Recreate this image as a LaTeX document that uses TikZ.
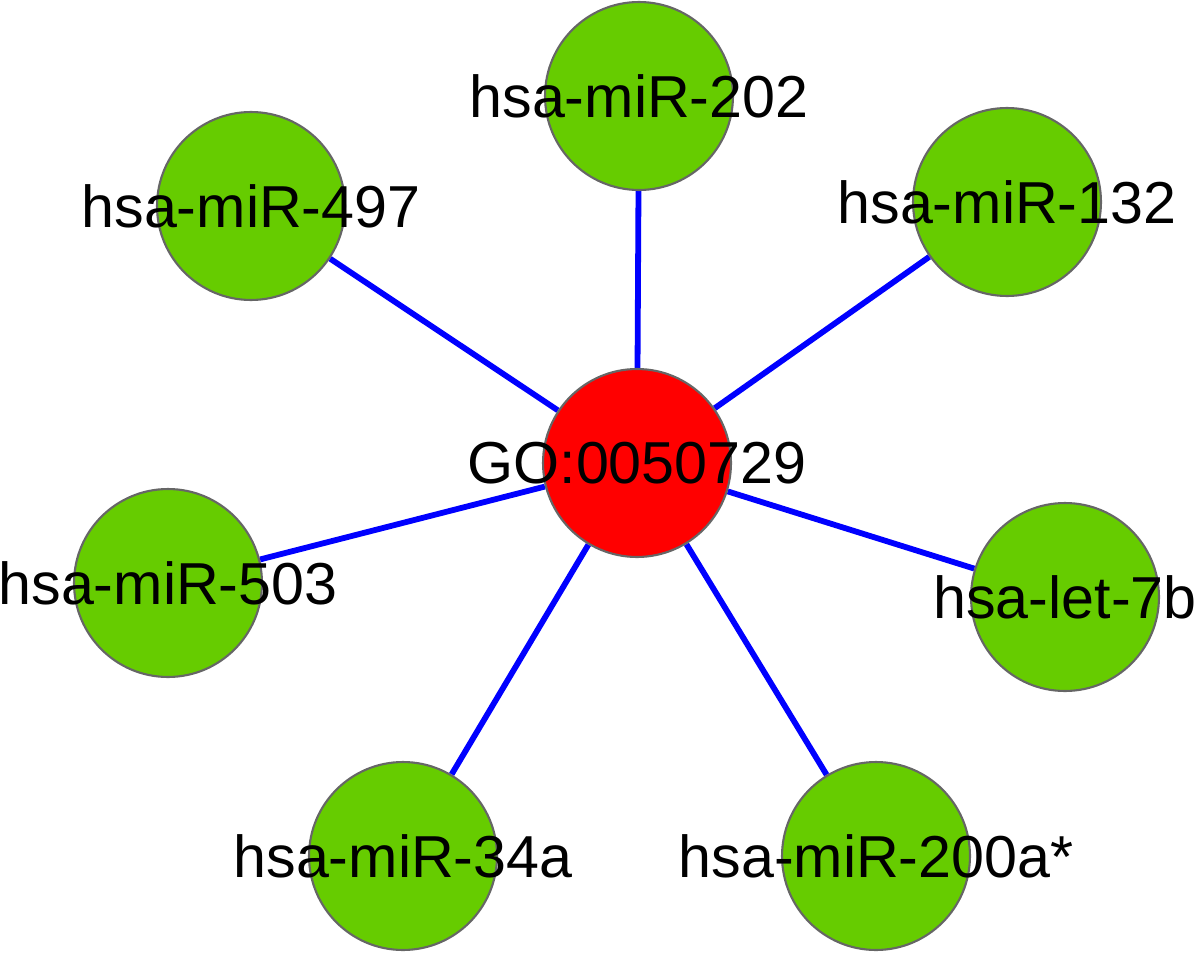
\documentclass[tikz,border=0pt]{standalone}
\usepackage{fontspec}
\setmainfont{Liberation Sans}
\usepackage{tikz}
\usetikzlibrary{backgrounds}
\definecolor{mirgreen}{RGB}{102,204,0}
\definecolor{rimgray}{RGB}{102,102,102}
\definecolor{linkblue}{RGB}{0,0,255}

\begin{document}
\begin{tikzpicture}[x=0.02cm, y=-0.02cm,
  gene/.style={circle, draw=rimgray, line width=1.2pt, minimum size=3.76cm, inner sep=0pt},
  mir/.style={gene, fill=mirgreen},
  term/.style={gene, fill=red},
  tag/.style={font=\fontsize{33.7}{40}\selectfont, inner sep=0pt},
  link/.style={draw=linkblue, line width=3.3pt}]
  \useasboundingbox (0,0) rectangle (1200,953);

  % GO term in the middle
  \node[term] (go) at (637,463) {};
  \node[tag] (go-t) at (go) {GO:0050729};

  % miRNAs round it
  \node[mir] (m202) at (639,96) {};
  \node[tag] (m202-t) at (m202) {hsa-miR-202};
  \node[mir] (m497) at (251,206) {};
  \node[tag] (m497-t) at (m497) {hsa-miR-497};
  \node[mir] (m132) at (1007,202) {};
  \node[tag] (m132-t) at (m132) {hsa-miR-132};
  \node[mir] (m503) at (168,583) {};
  \node[tag] (m503-t) at (m503) {hsa-miR-503};
  \node[mir] (let7b) at (1065,597) {};
  \node[tag] (let7b-t) at (let7b) {hsa-let-7b};
  \node[mir] (m34a) at (403,856) {};
  \node[tag] (m34a-t) at (m34a) {hsa-miR-34a};
  \node[mir] (m200a) at (876,856) {};
  \node[tag] (m200a-t) at (m200a) {hsa-miR-200a*};

  \begin{scope}[on background layer]
    \foreach \m in {m202, m497, m132, m503, let7b, m34a, m200a}
      \draw[link] (go) -- (\m);
  \end{scope}
\end{tikzpicture}
\end{document}
